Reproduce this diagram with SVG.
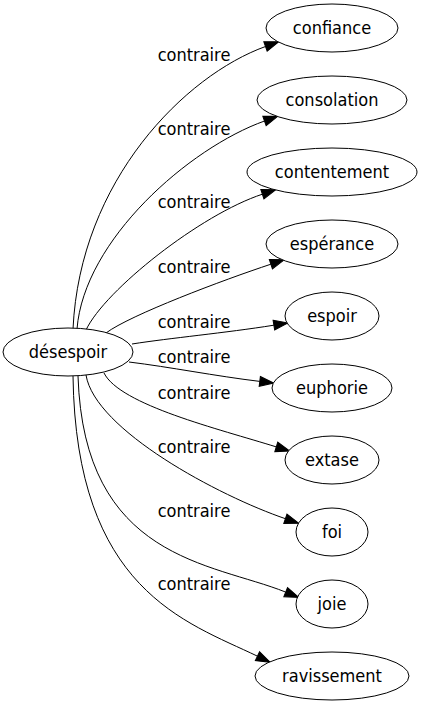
<svg xmlns="http://www.w3.org/2000/svg" width="422" height="707" viewBox="0 0 422 707">
<style>
.node ellipse{fill:#fff;stroke:#000;stroke-width:1}
text{font-family:"DejaVu Sans Condensed","DejaVu Sans",sans-serif;font-size:18px;fill:#000;text-anchor:middle}
.edge path{fill:none;stroke:#000;stroke-width:1;marker-end:url(#arr)}
</style>
<defs>
<marker id="arr" markerUnits="userSpaceOnUse" markerWidth="14" markerHeight="10" viewBox="0 0 13.3 9.34" refX="0" refY="4.67" orient="auto" overflow="visible">
<path d="M0,0 L13.3,4.67 L0,9.34 Z" fill="#000" stroke="#000" stroke-width="1"/>
</marker>
</defs>
<g id="edges" class="edge">
<path d="M73,329 C80,180 185.5,75.3 265.5,46.5"/>
<path d="M77,329 C84,240 189,148 264.5,121"/>
<path d="M86,330 C105,290 200.5,214.5 262.4,194.2"/>
<path d="M106,333 C130,315 223,280 270.9,264.2"/>
<path d="M132,344 C170,338 225,333 273.9,325.2"/>
<path d="M129,362 C170,367 215,376 259.8,381.4"/>
<path d="M104,373 C120,405 219,429 276.3,446.9"/>
<path d="M86,375 C95,430 219,496 285.4,518.7"/>
<path d="M78,376 C84,560 211.5,562.4 285.7,592.1"/>
<path d="M73,376 C76,590 185.5,621.6 257.5,656.2"/>
</g>
<g id="edge-labels">
<text x="194" y="61">contraire</text>
<text x="194" y="135">contraire</text>
<text x="194" y="208">contraire</text>
<text x="194" y="273">contraire</text>
<text x="194" y="328">contraire</text>
<text x="194" y="363">contraire</text>
<text x="194" y="399">contraire</text>
<text x="194" y="453">contraire</text>
<text x="194" y="517">contraire</text>
<text x="194" y="590">contraire</text>
</g>
<g id="desespoir" class="node"><ellipse cx="68" cy="352" rx="65" ry="24"/><text x="68" y="358">désespoir</text></g>
<g id="confiance" class="node"><ellipse cx="332" cy="28" rx="66" ry="24"/><text x="332" y="34">confiance</text></g>
<g id="consolation" class="node"><ellipse cx="332" cy="100" rx="75" ry="24"/><text x="332" y="106">consolation</text></g>
<g id="contentement" class="node"><ellipse cx="332" cy="172" rx="85" ry="24"/><text x="332" y="178">contentement</text></g>
<g id="esperance" class="node"><ellipse cx="332" cy="244" rx="66" ry="24"/><text x="332" y="250">espérance</text></g>
<g id="espoir" class="node"><ellipse cx="332" cy="316" rx="47" ry="24"/><text x="332" y="322">espoir</text></g>
<g id="euphorie" class="node"><ellipse cx="332" cy="388" rx="60" ry="24"/><text x="332" y="394">euphorie</text></g>
<g id="extase" class="node"><ellipse cx="332" cy="460" rx="47" ry="24"/><text x="332" y="466">extase</text></g>
<g id="foi" class="node"><ellipse cx="332" cy="532" rx="36" ry="24"/><text x="332" y="538">foi</text></g>
<g id="joie" class="node"><ellipse cx="332" cy="604" rx="36" ry="24"/><text x="332" y="610">joie</text></g>
<g id="ravissement" class="node"><ellipse cx="332" cy="676" rx="77" ry="24"/><text x="332" y="682">ravissement</text></g>
</svg>
